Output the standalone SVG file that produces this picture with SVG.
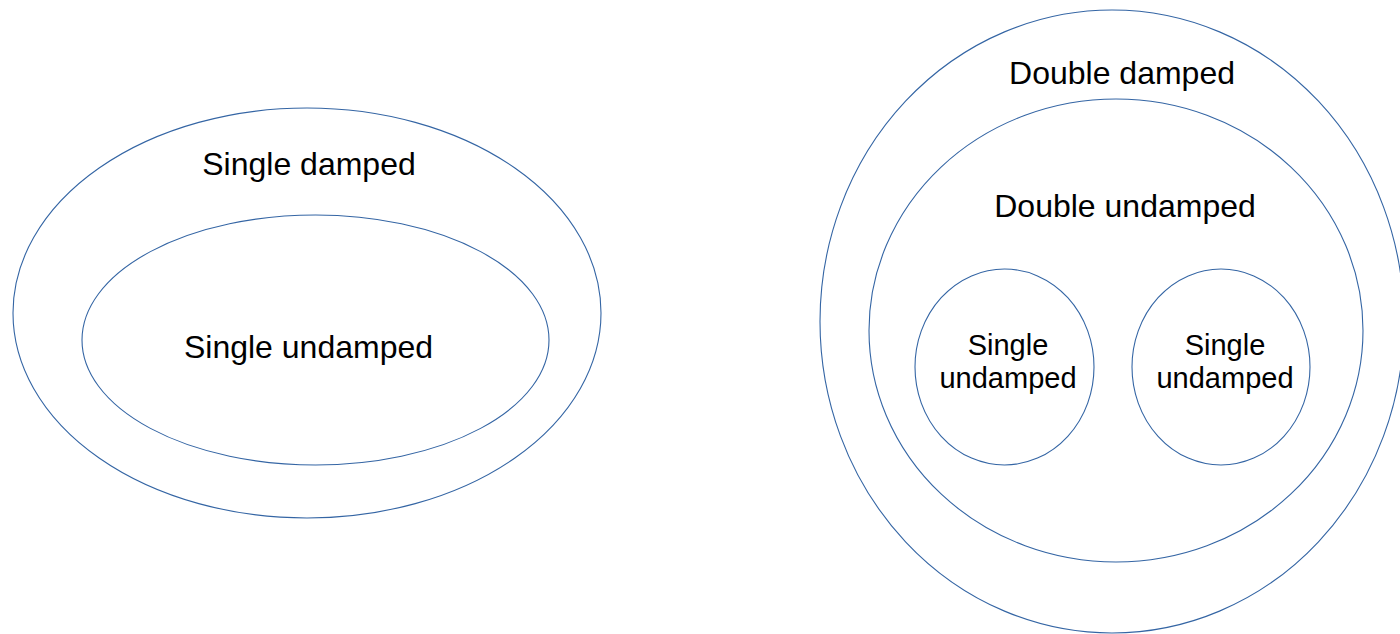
<svg xmlns="http://www.w3.org/2000/svg" width="1400" height="634" viewBox="0 0 1400 634">
  <style>
    .ring { fill: none; stroke: #3465a4; stroke-width: 1.1; }
    .lbl { font-family: "Liberation Sans", Arial, sans-serif; font-size: 32px; fill: #000; text-anchor: middle; }
    .lbl-s { font-family: "Liberation Sans", Arial, sans-serif; font-size: 29px; fill: #000; text-anchor: middle; }
  </style>
  <rect width="1400" height="634" fill="#fff"/>

  <!-- Left: single damped containing single undamped -->
  <g id="single-damped">
    <ellipse class="ring" cx="307" cy="313" rx="294" ry="205"/>
    <text class="lbl" x="309" y="175">Single damped</text>
  </g>
  <g id="single-undamped">
    <ellipse class="ring" cx="315.5" cy="340" rx="233.5" ry="125"/>
    <text class="lbl" x="308.5" y="358">Single undamped</text>
  </g>

  <!-- Right: double damped containing double undamped containing two singles -->
  <g id="double-damped">
    <ellipse class="ring" cx="1112" cy="321.5" rx="292" ry="311.5"/>
    <text class="lbl" x="1122" y="84">Double damped</text>
  </g>
  <g id="double-undamped">
    <ellipse class="ring" cx="1116" cy="330.5" rx="247" ry="231.5"/>
    <text class="lbl" x="1125" y="217">Double undamped</text>
  </g>
  <g id="single-undamped-a">
    <ellipse class="ring" cx="1004.5" cy="367" rx="89.5" ry="98"/>
    <text class="lbl-s" x="1008" y="355">Single</text>
    <text class="lbl-s" x="1008" y="388">undamped</text>
  </g>
  <g id="single-undamped-b">
    <ellipse class="ring" cx="1221" cy="367" rx="89" ry="98"/>
    <text class="lbl-s" x="1225" y="355">Single</text>
    <text class="lbl-s" x="1225" y="388">undamped</text>
  </g>

  <g id="connectors"/>
</svg>
